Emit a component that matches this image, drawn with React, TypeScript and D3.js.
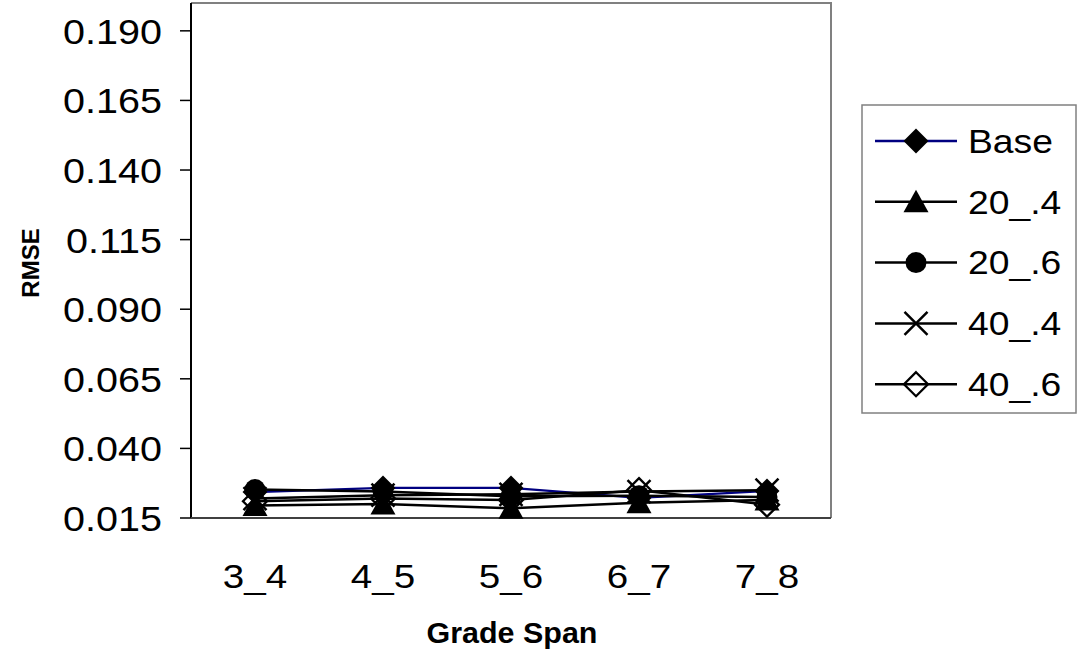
import React from "react";
import * as d3 from "d3";

const categories = ["3_4", "4_5", "5_6", "6_7", "7_8"];
const seriesNames = ["Base", "20_.4", "20_.6", "40_.4", "40_.6"];
const baseValues = [0.0243, 0.0258, 0.0258, 0.0222, 0.0247];
const s20_4Values = [0.0195, 0.0200, 0.0185, 0.0205, 0.0215];
const s20_6Values = [0.0252, 0.0245, 0.0228, 0.0230, 0.0225];
const s40_4Values = [0.0220, 0.0232, 0.0235, 0.0245, 0.0250];
const s40_6Values = [0.0210, 0.0220, 0.0215, 0.0250, 0.0198];
const yTicks = [0.015, 0.04, 0.065, 0.09, 0.115, 0.14, 0.165, 0.19];
const yDomain = [0.015, 0.2];

const FONT = "'Liberation Sans', Arial, Helvetica, sans-serif";

type Marker = "diamond" | "triangle" | "circle" | "x" | "hollowDiamond";

const series: { name: string; values: number[]; color: string; marker: Marker; width: number }[] = [
  { name: seriesNames[0], values: baseValues, color: "#000080", marker: "diamond", width: 2.3 },
  { name: seriesNames[1], values: s20_4Values, color: "#000000", marker: "triangle", width: 2.5 },
  { name: seriesNames[2], values: s20_6Values, color: "#000000", marker: "circle", width: 2.5 },
  { name: seriesNames[3], values: s40_4Values, color: "#000000", marker: "x", width: 2.5 },
  { name: seriesNames[4], values: s40_6Values, color: "#000000", marker: "hollowDiamond", width: 2.5 },
];

function MarkerShape({ type, x, y }: { type: Marker; x: number; y: number }) {
  switch (type) {
    case "diamond": {
      const h = 12.5;
      return <path d={`M${x},${y - h}L${x + h},${y}L${x},${y + h}L${x - h},${y}Z`} fill="#000" />;
    }
    case "triangle": {
      return <path d={`M${x},${y - 12}L${x + 12.5},${y + 10.5}L${x - 12.5},${y + 10.5}Z`} fill="#000" />;
    }
    case "circle":
      return <circle cx={x} cy={y} r={10.5} fill="#000" />;
    case "x": {
      const h = 11.5;
      return (
        <path
          d={`M${x - h},${y - h}L${x + h},${y + h}M${x - h},${y + h}L${x + h},${y - h}`}
          stroke="#000"
          strokeWidth={2.5}
          fill="none"
        />
      );
    }
    case "hollowDiamond": {
      const h = 12;
      return (
        <path
          d={`M${x},${y - h}L${x + h},${y}L${x},${y + h}L${x - h},${y}Z`}
          fill="none"
          stroke="#000"
          strokeWidth={2.3}
        />
      );
    }
  }
}

export default function App() {
  const left = 191;
  const right = 831;
  const top = 3;
  const bottom = 518;

  const x = d3.scaleBand<string>().domain(categories).range([left, right]);
  const y = d3.scaleLinear().domain(yDomain).range([bottom, top]);
  const fmt = d3.format(".3f");
  const line = d3
    .line<number>()
    .x((_, i) => (x(categories[i]) as number) + x.bandwidth() / 2)
    .y((d) => y(d));

  const legendX = 862;
  const legendY = 105;
  const legendRowY = (i: number) => 141 + i * 60.8;

  return (
    <svg
      width={1078}
      height={660}
      style={{ position: "absolute", left: 0, top: 0, background: "#fff" }}
      fontFamily={FONT}
    >
      <rect x={0} y={0} width={1078} height={660} fill="#fff" />
      {/* plot area frame */}
      <path d={`M${left},${top}H${right}V${bottom}`} fill="none" stroke="#808080" strokeWidth={2} />
      {/* y axis */}
      <line x1={left} x2={left} y1={top} y2={bottom} stroke="#000" strokeWidth={2} />
      {yTicks.map((t) => (
        <g key={t}>
          <line x1={left - 11} x2={left} y1={y(t)} y2={y(t)} stroke="#000" strokeWidth={1.5} />
          <text
            transform={`translate(162,${y(t) + 13}) scale(1.13,1)`}
            textAnchor="end"
            fontSize={35}
            fill="#000"
          >
            {fmt(t)}
          </text>
        </g>
      ))}
      {/* x axis */}
      <line x1={left} x2={right} y1={bottom} y2={bottom} stroke="#404040" strokeWidth={2} />
      {categories.map((c) => (
        <text
          key={c}
          transform={`translate(${(x(c) as number) + x.bandwidth() / 2},588) scale(1.17,1)`}
          textAnchor="middle"
          fontSize={33}
          fill="#000"
        >
          {c}
        </text>
      ))}
      {/* axis titles */}
      <text
        transform={`translate(512,643) scale(1.05,1)`}
        textAnchor="middle"
        fontSize={29}
        fontWeight="bold"
        fill="#000"
      >
        Grade Span
      </text>
      <text
        transform={`translate(39,263) rotate(-90)`}
        textAnchor="middle"
        fontSize={24}
        fontWeight="bold"
        fill="#000"
      >
        RMSE
      </text>
      {/* series lines */}
      {series.map((s) => (
        <path key={s.name} d={line(s.values) || ""} fill="none" stroke={s.color} strokeWidth={s.width} />
      ))}
      {/* markers */}
      {series.map((s) => (
        <g key={s.name + "m"}>
          {s.values.map((v, i) => (
            <MarkerShape
              key={i}
              type={s.marker}
              x={(x(categories[i]) as number) + x.bandwidth() / 2}
              y={y(v)}
            />
          ))}
        </g>
      ))}
      {/* legend */}
      <rect
        x={legendX}
        y={legendY}
        width={1076 - legendX}
        height={413 - legendY}
        fill="#fff"
        stroke="#808080"
        strokeWidth={1.5}
      />
      {series.map((s, i) => (
        <g key={s.name + "l"}>
          <line
            x1={875}
            x2={957}
            y1={legendRowY(i)}
            y2={legendRowY(i)}
            stroke={s.color}
            strokeWidth={s.width}
          />
          <MarkerShape type={s.marker} x={916} y={legendRowY(i)} />
          <text
            transform={`translate(968,${legendRowY(i) + 11.7}) scale(1.13,1)`}
            fontSize={33}
            fill="#000"
          >
            {s.name}
          </text>
        </g>
      ))}
    </svg>
  );
}
